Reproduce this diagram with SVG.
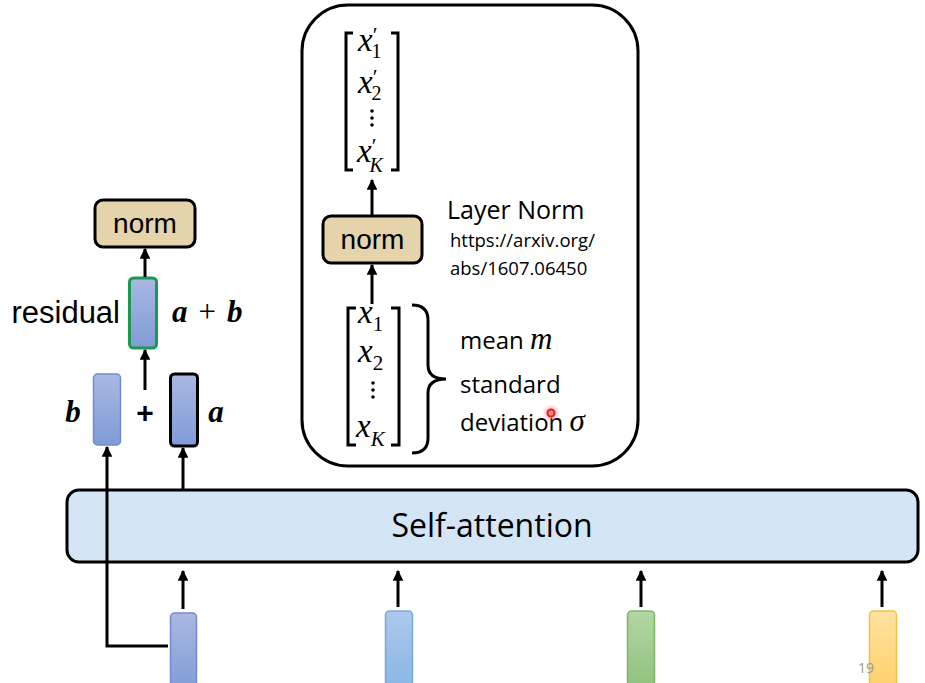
<svg xmlns="http://www.w3.org/2000/svg" width="925" height="683" viewBox="0 0 925 683">
<style>
.ln{stroke:#000;stroke-width:3;fill:none}
.ar{stroke:#000;stroke-width:3;fill:none;marker-end:url(#ah)}
.sans{font-family:"Liberation Sans",Arial,sans-serif}
.cal{font-family:"Open Sans","Noto Sans",sans-serif}
.math{font-family:"Liberation Serif","DejaVu Serif",serif;font-style:italic}
.up{font-style:normal}
.bm{font-family:"Liberation Serif","DejaVu Serif",serif;font-style:italic;font-weight:bold}
.norm{fill:#e4d3ab;stroke:#000;stroke-width:3}
</style>
<defs>
<marker id="ah" viewBox="0 0 10 10" refX="9" refY="5" markerWidth="3.6" markerHeight="3.6" orient="auto" markerUnits="strokeWidth">
<path d="M0,0 L10,5 L0,10 z" fill="#000"/>
</marker>
<linearGradient id="gPur" x1="0" y1="0" x2="0" y2="1"><stop offset="0" stop-color="#aab8e2"/><stop offset="1" stop-color="#7f9bd7"/></linearGradient>
<linearGradient id="gBlu" x1="0" y1="0" x2="0" y2="1"><stop offset="0" stop-color="#acc9ec"/><stop offset="1" stop-color="#89b5e4"/></linearGradient>
<linearGradient id="gGrn" x1="0" y1="0" x2="0" y2="1"><stop offset="0" stop-color="#b3d6a3"/><stop offset="1" stop-color="#90c17b"/></linearGradient>
<linearGradient id="gYel" x1="0" y1="0" x2="0" y2="1"><stop offset="0" stop-color="#ffe3a0"/><stop offset="1" stop-color="#ffd06a"/></linearGradient>
<radialGradient id="glow"><stop offset="0" stop-color="#ff5a5a" stop-opacity="0.9"/><stop offset="1" stop-color="#ff9a9a" stop-opacity="0"/></radialGradient>
</defs>
<rect width="925" height="683" fill="#fff"/>

<g id="layer-norm-box">
<rect x="302" y="5" width="336" height="461" rx="46" ry="46" fill="#fff" stroke="#000" stroke-width="3"/>
</g>

<g id="output-vector">
<path class="ln" d="M353,33 H346 V170 H353" stroke-width="2"/>
<path class="ln" d="M391,33 H398 V170 H391" stroke-width="2"/>
<text class="math" x="358" y="51" font-size="33">x<tspan class="up" font-size="22" dx="0" dy="-9">′</tspan><tspan class="up" font-size="20" dx="-6" dy="16">1</tspan></text>
<text class="math" x="358" y="93" font-size="33">x<tspan class="up" font-size="22" dx="0" dy="-9">′</tspan><tspan class="up" font-size="20" dx="-6" dy="16">2</tspan></text>
<circle cx="372" cy="111" r="1.8"/><circle cx="372" cy="118" r="1.8"/><circle cx="372" cy="125" r="1.8"/>
<text class="math" x="357" y="162" font-size="33">x<tspan class="up" font-size="22" dx="0" dy="-9">′</tspan><tspan font-size="20" dx="-7" dy="19">K</tspan></text>
</g>

<g id="inner-norm">
<rect class="norm" x="323" y="216" width="99" height="47" rx="8"/>
<text class="sans" x="372.5" y="249" font-size="28" text-anchor="middle">norm</text>
</g>

<g id="input-vector">
<path class="ln" d="M356,308 H348 V445 H356" stroke-width="2"/>
<path class="ln" d="M391,308 H399 V445 H391" stroke-width="2"/>
<text class="math" x="358" y="323" font-size="33">x<tspan class="up" font-size="21" dx="0" dy="8">1</tspan></text>
<text class="math" x="358" y="362" font-size="33">x<tspan class="up" font-size="21" dx="0" dy="8">2</tspan></text>
<circle cx="373" cy="383" r="1.8"/><circle cx="373" cy="390" r="1.8"/><circle cx="373" cy="397" r="1.8"/>
<text class="math" x="356" y="437" font-size="33">x<tspan font-size="21" dx="0" dy="9">K</tspan></text>
<path class="ln" stroke-width="2.5" d="M412,305 Q428,305 428,320 V365 Q428,379 446,379 Q428,379 428,393 V438 Q428,453 412,453"/>
</g>

<g id="labels-layer-norm">
<text class="cal" x="447" y="219" font-size="25">Layer Norm</text>
<text class="cal" x="450" y="247" font-size="18.5">https://arxiv.org/</text>
<text class="cal" x="450" y="275" font-size="18.5">abs/1607.06450</text>
<text class="cal" x="460" y="349" font-size="24">mean <tspan font-family="Liberation Serif,serif" font-style="italic" font-size="31">m</tspan></text>
<text class="cal" x="460" y="393" font-size="24">standard</text>
<text class="cal" x="460" y="431" font-size="24">deviation <tspan font-family="Liberation Serif,serif" font-style="italic" font-size="31">σ</tspan></text>
<circle cx="551" cy="413" r="9" fill="url(#glow)"/>
<circle cx="551" cy="413" r="3.5" fill="none" stroke="#e0201c" stroke-width="2"/>
</g>

<g id="self-attention">
<rect x="67" y="490" width="851" height="72" rx="12" fill="#d4e5f5" stroke="#000" stroke-width="3"/>
<text class="cal" x="492" y="537" font-size="32" text-anchor="middle">Self-attention</text>
</g>

<g id="vec-in-1"><rect x="170.5" y="613" width="26" height="80" rx="4" fill="url(#gPur)" stroke="#6f8dd0" stroke-width="1.5"/></g>
<g id="vec-in-2"><rect x="385.5" y="611" width="27" height="80" rx="4" fill="url(#gBlu)" stroke="#79a8dc" stroke-width="1.5"/></g>
<g id="vec-in-3"><rect x="627.5" y="611" width="27" height="80" rx="4" fill="url(#gGrn)" stroke="#80b46a" stroke-width="1.5"/></g>
<g id="vec-in-4"><rect x="869.5" y="611" width="27" height="80" rx="4" fill="url(#gYel)" stroke="#f4c240" stroke-width="1.5"/></g>

<g id="vec-b"><rect x="93.5" y="374" width="27" height="71" rx="4" fill="url(#gPur)" stroke="#6f8dd0" stroke-width="1.5"/>
<text class="bm" x="73" y="422" font-size="31" text-anchor="middle">b</text></g>
<g id="vec-a"><rect x="170.5" y="374" width="27" height="72" rx="4" fill="url(#gPur)" stroke="#000" stroke-width="3"/>
<text class="bm" x="216" y="422" font-size="31" text-anchor="middle">a</text></g>
<g id="plus"><text class="sans" x="145" y="423" font-size="30" font-weight="bold" text-anchor="middle">+</text></g>

<g id="vec-residual"><rect x="129.5" y="278" width="27" height="70" rx="4" fill="url(#gPur)" stroke="#1b9a4f" stroke-width="3"/>
<text class="sans" x="120" y="323" font-size="31" text-anchor="end">residual</text>
<text class="bm" x="172" y="322" font-size="31">a<tspan font-weight="normal" font-style="normal" dx="11">+</tspan><tspan dx="11">b</tspan></text></g>

<g id="outer-norm">
<rect class="norm" x="95" y="200" width="100" height="47" rx="8"/>
<text class="sans" x="145" y="233" font-size="28" text-anchor="middle">norm</text>
</g>

<g id="connectors">
<path class="ar" d="M372,215 V180"/>
<path class="ar" d="M372,304 V265"/>
<path class="ar" d="M183,609 V571"/>
<path class="ar" d="M398,607 V571"/>
<path class="ar" d="M641,607 V571"/>
<path class="ar" d="M882,607 V571"/>
<path class="ar" d="M168,646 H107 V447"/>
<path class="ar" d="M183,490 V448"/>
<path class="ar" d="M145,390 V350"/>
<path class="ar" d="M145,277 V249"/>
</g>

<text class="cal" x="858" y="673" font-size="14" fill="#999">19</text>
</svg>
